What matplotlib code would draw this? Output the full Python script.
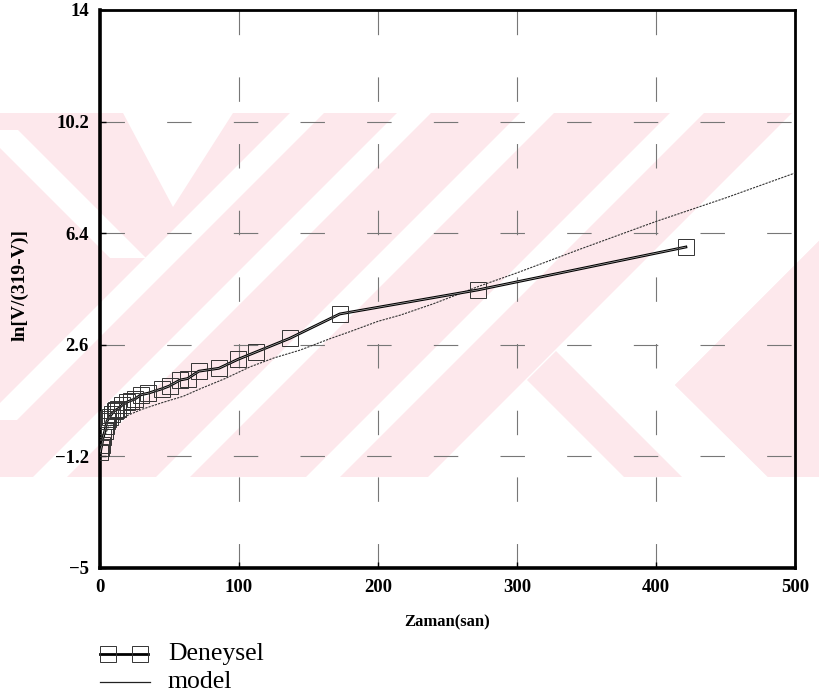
import matplotlib.pyplot as plt
from matplotlib.patches import Polygon

# Deneysel (experimental) values
zaman = [0.3, 0.8, 1.4, 2.2, 3.4, 4.2, 5, 6, 7, 8.5, 10.5, 11.5, 13, 16, 19.5, 22,
         25, 29.5, 34.5, 44.5, 50, 57.5, 63, 71, 85.5, 99, 112, 136.5, 172.5, 272, 421.5]
deneysel = [-1.05, -0.92, -0.8, -0.55, -0.35, -0.18, 0.0, 0.08, 0.15, 0.25, 0.35, 0.38,
            0.42, 0.55, 0.65, 0.7, 0.75, 0.9, 0.95, 1.1, 1.2, 1.4, 1.45, 1.7, 1.8,
            2.1, 2.35, 2.82, 3.65, 4.47, 5.93]

# model curve
zaman_model = [0, 3, 6, 12, 20, 30, 44, 60, 72, 90, 108, 125, 144, 165, 180,
               200, 216, 240, 273, 300, 345, 400, 450, 500]
model = [-1.0, -0.55, -0.2, 0.0, 0.2, 0.4, 0.62, 0.85, 1.1, 1.45, 1.85, 2.15,
         2.42, 2.8, 3.05, 3.4, 3.61, 4.0, 4.6, 5.05, 5.85, 6.8, 7.6, 8.45]

xticks = [0, 100, 200, 300, 400, 500]
yticks = [-5, -1.2, 2.6, 6.4, 10.2, 14]

W, H = 819, 697
fig = plt.figure(figsize=(W / 100, H / 100), dpi=100)
serif = "Liberation Serif"


def fp(x, y):
    # pixel position (top-left origin) -> figure fraction
    return (x / W, 1 - y / H)


def poly(pts, color):
    fig.patches.append(Polygon([fp(*p) for p in pts], closed=True, transform=fig.transFigure,
                               facecolor=color, edgecolor="none", zorder=-10))


def stripe(p0, p1, w, color="white"):
    (x0, y0), (x1, y1) = p0, p1
    poly([(x0 - w / 2, y0), (x0 + w / 2, y0), (x1 + w / 2, y1), (x1 - w / 2, y1)], color)


# background pattern
pink = "#fde8ec"
top, bot = 113, 477
poly([(0, top), (W, top), (W, bot), (0, bot)], pink)
stripe((0, 130), (128, 258), 36)
stripe((0, 420), (307, top), 34)
poly([(123, top), (233, top), (173, 207)], "white")
stripe((50, bot), (414, top), 34)
stripe((173, bot), (537, top), 34)
stripe((323, bot), (687, top), 34)
poly([(428, bot), (792, top), (W, top), (W, 241), (675, 385), (768, bot)], "white")
poly([(527, 380), (556, 351), (682, bot), (624, bot)], pink)
poly([(675, 385), (W, 241), (W, bot), (768, bot)], pink)

ax = fig.add_axes([100 / W, 1 - 568 / H, 695 / W, 558 / H])
ax.patch.set_alpha(0)

ax.plot(zaman_model, model, color="#333333", lw=0.8, ls=(0, (2, 1)), zorder=3)
ax.plot(zaman, deneysel, color="black", lw=2.0, zorder=4)
ax.plot(zaman, deneysel, color="#aaaaaa", lw=0.5, marker="s", ms=11,
        mfc="none", mec="#333333", mew=0.7, zorder=5)

ax.set_xlim(0, 500)
ax.set_ylim(-5, 14)
ax.set_xticks(xticks)
ax.set_yticks(yticks)
ax.set_yticklabels([f"{v:g}".replace("-", "\u2212") for v in yticks])
ax.grid(True, color="#777777", lw=0.8, ls=(0, (22, 38)))
ax.tick_params(direction="in", length=4, width=1, pad=8)
for lab in ax.get_xticklabels() + ax.get_yticklabels():
    lab.set_fontfamily(serif)
    lab.set_fontweight("bold")
    lab.set_fontsize(13.5)
for side, s in ax.spines.items():
    s.set_linewidth(2.6 if side in ("left", "bottom") else 2.0)

ax.set_xlabel("Zaman(san)", fontfamily=serif, fontweight="bold", fontsize=12, labelpad=13)
fig.text(20 / W, 1 - 285 / H, "ln[V/(319-V)]", rotation=90, ha="center", va="center",
         fontfamily=serif, fontweight="bold", fontsize=14)

# legend drawn under the axes
ly1, ly2 = 654, 682
fig.lines.append(plt.Line2D([fp(100, 0)[0], fp(148, 0)[0]], [fp(0, ly1)[1]] * 2,
                            transform=fig.transFigure, color="black", lw=2.0))
fig.lines.append(plt.Line2D([fp(108, 0)[0], fp(140, 0)[0]], [fp(0, ly1)[1]] * 2,
                            transform=fig.transFigure, ls="none", marker="s", ms=11,
                            mfc="none", mec="#333333", mew=0.7))
fig.lines.append(plt.Line2D([fp(100, 0)[0], fp(150, 0)[0]], [fp(0, ly2)[1]] * 2,
                            transform=fig.transFigure, color="#222222", lw=0.9))
fig.text(168 / W, 1 - ly1 / H, "Deneysel", fontfamily=serif, fontsize=18.5, va="center")
fig.text(168 / W, 1 - ly2 / H, "model", fontfamily=serif, fontsize=18.5, va="center")

fig.savefig("out.png", dpi=100)
